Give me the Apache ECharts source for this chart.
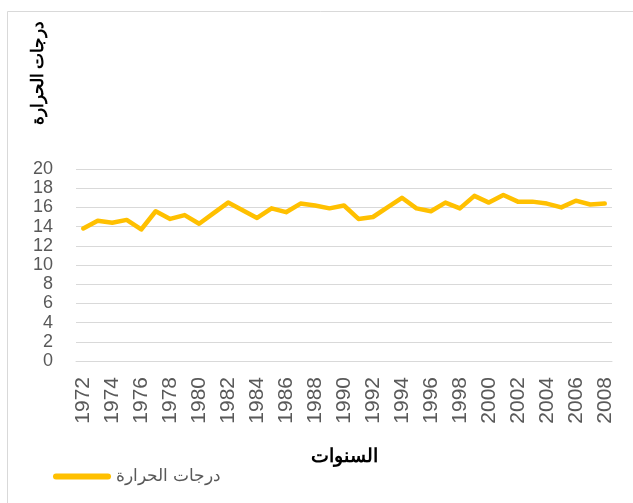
<!DOCTYPE html>
<html>
<head>
<meta charset="utf-8">
<script src="https://cdn.jsdelivr.net/npm/echarts@6/dist/echarts.min.js"></script>
<style>
  html, body { margin: 0; padding: 0; background: #fff; }
</style>
</head>
<body>
<div id="main" style="width:633px;height:503px"></div>
<script>
    // years and temperatures
    let years = [];
    for (let y = 1972; y <= 2008; y++) {
        years.push(String(y));
    }
    let temps = [13.8, 14.6, 14.4, 14.7, 13.7, 15.6, 14.8, 15.2, 14.3, 15.4,
                 16.5, 15.7, 14.9, 15.9, 15.5, 16.4, 16.2, 15.9, 16.2, 14.8,
                 15.0, 16.0, 17.0, 15.9, 15.6, 16.5, 15.9, 17.2, 16.5, 17.3,
                 16.6, 16.6, 16.4, 16.0, 16.7, 16.3, 16.4];
    let yTicks = [0, 20, 2]; // min, max, interval
    let seriesName = 'درجات الحرارة';
    let xName = 'السنوات';

    let chart = echarts.init(document.getElementById('main'));
    let option = {
        backgroundColor: '#fff',
        animation: false,
        grid: {
            left: 76,
            right: 21,
            top: 169,
            bottom: 142
        },
        graphic: [
            {
                type: 'rect',
                shape: { x: 7.5, y: 11.5, width: 700, height: 600 },
                style: { fill: 'none', stroke: '#d9d9d9', lineWidth: 1 },
                silent: true
            },
            {
                type: 'text',
                x: 38,
                y: 73,
                rotation: Math.PI / 2,
                style: {
                    text: seriesName,
                    font: 'bold 17px "Liberation Sans", Arial, sans-serif',
                    fill: '#000',
                    textAlign: 'center',
                    textVerticalAlign: 'middle'
                }
            }
        ],
        legend: {
            left: 48,
            top: 463,
            itemWidth: 58,
            itemHeight: 6,
            itemGap: 4,
            textStyle: {
                color: '#595959',
                fontSize: 17,
                fontFamily: '"Liberation Sans", Arial, sans-serif'
            },
            data: [{ name: seriesName, icon: 'path://M3,0 L55,0 A3,3 0 0 1 55,6 L3,6 A3,3 0 0 1 3,0 Z' }]
        },
        xAxis: {
            type: 'category',
            data: years,
            boundaryGap: true,
            name: xName,
            nameLocation: 'middle',
            nameGap: 86,
            nameTextStyle: {
                color: '#000',
                fontWeight: 'bold',
                fontSize: 19,
                fontFamily: '"Liberation Sans", Arial, sans-serif'
            },
            axisLine: { show: true, lineStyle: { color: '#d9d9d9', width: 1 } },
            axisTick: { show: false },
            axisLabel: {
                rotate: 90,
                interval: 1,
                margin: 16,
                color: '#595959',
                fontSize: 21,
                fontFamily: '"Liberation Sans", Arial, sans-serif'
            }
        },
        yAxis: {
            type: 'value',
            min: yTicks[0],
            max: yTicks[1],
            interval: yTicks[2],
            axisLine: { show: false },
            axisTick: { show: false },
            splitLine: { lineStyle: { color: '#d9d9d9', width: 1 } },
            axisLabel: {
                margin: 23,
                color: '#595959',
                fontSize: 18,
                hideOverlap: false,
                fontFamily: '"Liberation Sans", Arial, sans-serif'
            }
        },
        series: [
            {
                name: seriesName,
                type: 'line',
                data: temps,
                symbol: 'none',
                lineStyle: { color: '#FFC000', width: 4.5, join: 'round', cap: 'round' },
                itemStyle: { color: '#FFC000' }
            }
        ]
    };
    chart.setOption(option);
</script>
</body>
</html>
